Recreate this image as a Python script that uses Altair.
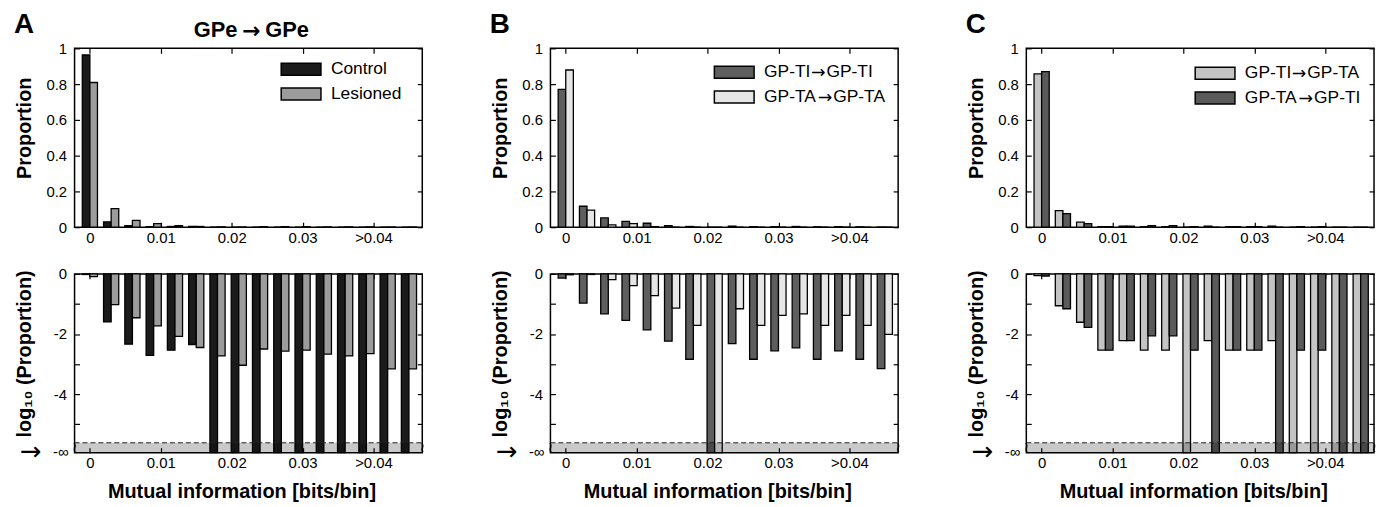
import altair as alt
import pandas as pd

# ---------------- data ----------------
BINS = [0.000, 0.003, 0.006, 0.009, 0.012, 0.015, 0.018, 0.021,
        0.024, 0.027, 0.030, 0.033, 0.036, 0.039, 0.042, 0.045]
X_TICKS = [0, 0.01, 0.02, 0.03, 0.04]

# Panel A
A_NAMES = [("Control",), ("Lesioned",)]
A_COLORS = ["#1b1b1b", "#9c9c9c"]
A_TOP_CONTROL = [0.963, 0.030, 0.008, 0.003, 0.004, 0.005, 0, 0, 0, 0, 0, 0, 0, 0, 0, 0]
A_TOP_LESIONED = [0.809, 0.104, 0.038, 0.020, 0.008, 0.004, 0.002, 0.001,
                  0.003, 0.003, 0.003, 0.002, 0.002, 0.002, 0.001, 0.001]
A_LOG_CONTROL = [-0.02, -1.60, -2.34, -2.71, -2.54, -2.35, None, None,
                 None, None, None, None, None, None, None, None]
A_LOG_LESIONED = [-0.09, -1.02, -1.46, -1.73, -2.08, -2.45, -2.73, -3.04,
                  -2.50, -2.57, -2.54, -2.67, -2.73, -2.65, -3.16, -3.16]

# Panel B  (legend names: source, target)
B_NAMES = [("GP-TI", "GP-TI"), ("GP-TA", "GP-TA")]
B_COLORS = ["#5e5e5e", "#e6e6e6"]
B_TOP_TI = [0.771, 0.117, 0.052, 0.033, 0.022, 0.009, 0.004, 0,
            0.006, 0.003, 0.003, 0.004, 0.002, 0.003, 0.002, 0.001]
B_TOP_TA = [0.879, 0.095, 0.013, 0.020, 0.003, 0, 0, 0, 0, 0, 0, 0, 0, 0, 0, 0]
B_LOG_TI = [-0.14, -0.97, -1.33, -1.55, -1.86, -2.24, -2.84, None,
            -2.32, -2.84, -2.56, -2.46, -2.84, -2.56, -2.84, -3.15]
B_LOG_TA = [-0.03, -0.02, -0.19, -0.39, -0.72, -1.14, -1.71, None,
            -1.16, -1.71, -1.38, -1.33, -1.71, -1.38, -1.71, -2.01]

# Panel C
C_NAMES = [("GP-TI", "GP-TA"), ("GP-TA", "GP-TI")]
C_COLORS = ["#c4c4c4", "#5a5a5a"]
C_TOP_TI_TA = [0.857, 0.093, 0.028, 0.003, 0.006, 0.003, 0.003, 0,
               0.006, 0.003, 0.003, 0.006, 0, 0, 0, 0]
C_TOP_TA_TI = [0.870, 0.076, 0.020, 0.003, 0.006, 0.009, 0.009, 0.003,
               0, 0.003, 0.003, 0, 0.003, 0.003, 0, 0]
C_LOG_TI_TA = [-0.06, -1.06, -1.61, -2.54, -2.22, -2.54, -2.54, None,
               -2.22, -2.54, -2.54, -2.22, None, None, None, None]
C_LOG_TA_TI = [-0.07, -1.16, -1.78, -2.54, -2.22, -2.06, -2.06, -2.54,
               None, -2.54, -2.54, None, -2.54, -2.54, None, None]

ARROW = "\u2192"

# ---------------- layout / style ----------------
W, H = 350, 180
X_DOMAIN = [-0.00216, 0.04688]
BAR_W = 0.00107
Y_FLOOR = -5.95
BAND_TOP_PX = 170
FONT = "Liberation Sans"
ARROW_FONT = "DejaVu Sans"
LEG_FS = 17.5
# Liberation Sans (Arial metrics) advance widths, em units
ADV = {"G": 0.778, "P": 0.667, "-": 0.333, "T": 0.611, "I": 0.278, "A": 0.667}

XLAB = "datum.value > 0.035 ? '>0.04' : (datum.value == 0 ? '0' : format(datum.value, '.2f'))"
YLAB_TOP = "datum.value == 0 ? '0' : (datum.value == 1 ? '1' : format(datum.value, '.1f'))"
YLAB_LOG = "datum.value == 0 ? '0' : (datum.value == -2 ? '-2' : (datum.value == -4 ? '-4' : ''))"


def frame(colors, series_vals, floor=None):
    rows = []
    for s, (col, vals) in enumerate(zip(colors, series_vals)):
        for c, v in zip(BINS, vals):
            x0 = c - BAR_W if s == 0 else c
            rows.append({"fill": col, "x0": x0, "x1": x0 + BAR_W,
                         "v": floor if v is None else v})
    return pd.DataFrame(rows)


def tick_axis(orient, values, **kw):
    return alt.Axis(orient=orient, values=values, domain=False, grid=False,
                    offset=-5, tickSize=5, tickColor="black", tickWidth=1.2, **kw)


def one_text(txt, x, y, size, bold=False, align="left", baseline="alphabetic", font=FONT):
    return alt.Chart(pd.DataFrame({"t": [txt]})).mark_text(
        fontSize=size, fontWeight="bold" if bold else "normal", align=align,
        baseline=baseline, color="black", font=font
    ).encode(x=alt.value(x), y=alt.value(y), text="t:N")


def label_layers(parts, x, y):
    """Legend label; an arrow between parts is drawn in a font with a full-size arrow."""
    out = [one_text(parts[0], x, y, LEG_FS, baseline="middle")]
    if len(parts) == 2:
        w1 = sum(ADV[ch] for ch in parts[0]) * LEG_FS
        aw = 0.838 * LEG_FS
        out.append(one_text(ARROW, x + w1 + 0.5, y + 1, LEG_FS, baseline="middle", font=ARROW_FONT))
        out.append(one_text(parts[1], x + w1 + aw + 1.5, y, LEG_FS, baseline="middle"))
    return out


def top_panel(names, colors, v1, v2, letter, leg_x, leg_y, title=None):
    df = frame(colors, [v1, v2])
    xs = alt.Scale(domain=X_DOMAIN, nice=False, zero=False)
    ys = alt.Scale(domain=[0, 1], nice=False)
    yt = [0, 0.2, 0.4, 0.6, 0.8, 1]
    base = alt.Chart(df)
    bars = base.mark_rect(stroke="black", strokeWidth=1.3).encode(
        x=alt.X("x0:Q", scale=xs, axis=tick_axis("bottom", X_TICKS, labelExpr=XLAB,
                                                  labelPadding=3, title=None)),
        x2="x1:Q",
        y=alt.Y("v:Q", scale=ys, axis=tick_axis("left", yt, labelExpr=YLAB_TOP, labelPadding=8,
                                                 title="Proportion", titleX=-45, titleY=80)),
        y2=alt.datum(0),
        color=alt.Color("fill:N", scale=None),
    )
    mirror = base.mark_point(opacity=0).encode(
        x=alt.X("x0:Q", scale=xs, axis=tick_axis("top", X_TICKS, labels=False, title=None)),
        y=alt.Y("v:Q", scale=ys, axis=tick_axis("right", yt, labels=False, title=None)),
    )
    layers = [bars, mirror]
    for i, (parts, col) in enumerate(zip(names, colors)):
        ly = leg_y + i * 25
        layers.append(
            alt.Chart(pd.DataFrame({"fill": [col]})).mark_rect(stroke="black", strokeWidth=1.5).encode(
                x=alt.value(leg_x), x2=alt.value(leg_x + 40),
                y=alt.value(ly - 6), y2=alt.value(ly + 6),
                color=alt.Color("fill:N", scale=None))
        )
        layers.extend(label_layers(parts, leg_x + 50, ly))
    layers.append(one_text(letter, -61, -15, 28, bold=True))
    if title:
        cx = W / 2 + 3
        layers.append(one_text(title[0], cx - 14, -11, 22, bold=True, align="right"))
        layers.append(one_text(ARROW, cx, -17, 22, bold=True, align="center",
                               baseline="middle", font=ARROW_FONT))
        layers.append(one_text(title[1], cx + 14, -11, 22, bold=True, align="left"))
    return alt.layer(*layers).resolve_axis(x="independent", y="independent").properties(width=W, height=H)


def bottom_panel(colors, l1, l2):
    df = frame(colors, [l1, l2], floor=Y_FLOOR)
    xs = alt.Scale(domain=X_DOMAIN, nice=False, zero=False)
    ys = alt.Scale(domain=[Y_FLOOR, 0], nice=False, zero=False, clamp=True)
    yt = [0, -1, -2, -3, -4, -5]
    base = alt.Chart(df)
    bars = base.mark_rect(stroke="black", strokeWidth=1.3).encode(
        x=alt.X("x0:Q", scale=xs, axis=tick_axis("bottom", X_TICKS, labelExpr=XLAB, labelPadding=3,
                                                  title="Mutual information [bits/bin]",
                                                  titleX=168, titleY=50, titleBaseline="alphabetic")),
        x2="x1:Q",
        y=alt.Y("v:Q", scale=ys, axis=tick_axis("left", yt, labelExpr=YLAB_LOG, labelPadding=8,
                                                 title="log\u2081\u2080 (Proportion)", titleX=-45, titleY=80)),
        y2=alt.datum(0),
        color=alt.Color("fill:N", scale=None),
    )
    mirror = base.mark_point(opacity=0).encode(
        x=alt.X("x0:Q", scale=xs, axis=tick_axis("top", X_TICKS, labels=False, title=None)),
        y=alt.Y("v:Q", scale=ys, axis=tick_axis("right", yt, labels=False, title=None)),
    )
    one = pd.DataFrame({"a": [0]})
    band = alt.Chart(one).mark_rect(color="black", opacity=0.21).encode(
        x=alt.value(0), x2=alt.value(W), y=alt.value(BAND_TOP_PX), y2=alt.value(H))
    dash = alt.Chart(one).mark_rule(color="#222222", strokeWidth=1, strokeDash=[5, 3]).encode(
        x=alt.value(0), x2=alt.value(W), y=alt.value(BAND_TOP_PX))
    layers = [bars, mirror, band, dash,
              one_text("\u2240", 0, 175, 14, align="center", baseline="middle", font=ARROW_FONT),
              one_text("\u2240", W, 175, 14, align="center", baseline="middle", font=ARROW_FONT),
              one_text("-\u221e", -6, 179, 15, align="right", baseline="middle"),
              one_text(ARROW, -33, 179, 26, align="right", baseline="middle", font=ARROW_FONT)]
    return alt.layer(*layers).resolve_axis(x="independent", y="independent").properties(width=W, height=H)


VS = 20
col_a = alt.vconcat(
    top_panel(A_NAMES, A_COLORS, A_TOP_CONTROL, A_TOP_LESIONED, "A", 208, 21, title=("GPe", "GPe")),
    bottom_panel(A_COLORS, A_LOG_CONTROL, A_LOG_LESIONED), spacing=VS)
col_b = alt.vconcat(
    top_panel(B_NAMES, B_COLORS, B_TOP_TI, B_TOP_TA, "B", 165, 24),
    bottom_panel(B_COLORS, B_LOG_TI, B_LOG_TA), spacing=VS)
col_c = alt.vconcat(
    top_panel(C_NAMES, C_COLORS, C_TOP_TI_TA, C_TOP_TA_TI, "C", 170, 25),
    bottom_panel(C_COLORS, C_LOG_TI_TA, C_LOG_TA_TI), spacing=VS)

chart = alt.hconcat(alt.hconcat(col_a, col_b, spacing=63), col_c, spacing=63).properties(
    padding={"left": 5, "top": 1, "right": 0, "bottom": 0}, background="white"
).configure(font=FONT).configure_view(stroke="black", strokeWidth=1.5).configure_axis(
    labelFont=FONT, titleFont=FONT, labelFontSize=15, labelColor="black",
    titleFontSize=20, titleFontWeight="bold", titleColor="black"
)

chart.save("out.html", embed_options={"renderer": "svg", "actions": False})
